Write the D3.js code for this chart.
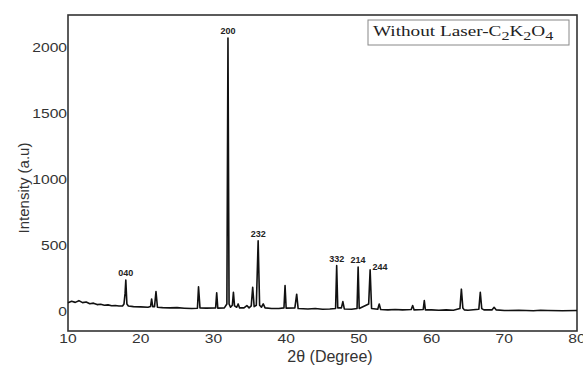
<!DOCTYPE html>
<html>
<head>
<meta charset="utf-8">
<script src="https://cdn.jsdelivr.net/npm/d3@7"></script>
<style>
  body { margin: 0; background: #fff; }
  svg { display: block; }
</style>
</head>
<body>
<div class="chart"></div>
<script>
// XRD pattern
var twoTheta = [10, 10.5, 11, 11.5, 12, 12.5, 13, 13.5, 14, 14.5, 15, 15.5, 16, 16.5, 17, 17.5, 17.7, 17.85, 17.95, 18.1, 18.3,
  19, 20, 21, 21.35, 21.5, 21.65, 21.9, 22.1, 22.3, 23, 24, 25, 26, 27, 27.8, 27.95, 28.15, 29, 30.3, 30.45, 30.6,
  31.5, 31.85, 32.0, 32.15, 32.35, 32.6, 32.75, 32.9, 33.2, 33.4, 33.6, 34.2, 34.6, 34.9, 35.2, 35.4, 35.6, 35.9,
  36.15, 36.35, 36.6, 36.85, 37.1, 38, 39, 39.7, 39.85, 40, 41.2, 41.45, 41.65, 43, 44, 45, 46, 46.8, 46.95, 47.1,
  47.6, 47.8, 48.0, 49, 49.75, 49.9, 50.05, 51.35, 51.55, 51.75, 52.6, 52.8, 53.0, 54, 55, 56, 57.2, 57.4, 57.6,
  58.85, 59.0, 59.15, 60, 61, 62, 63, 63.9, 64.1, 64.3, 64.5, 65, 66.5, 66.7, 66.9, 67.2, 68.3, 68.6, 68.9,
  70, 72, 74, 75, 76, 78, 80];
var intensity = [70, 80, 72, 85, 70, 75, 62, 66, 55, 58, 50, 53, 46, 48, 44, 45, 60, 140, 242, 60, 45,
  40, 38, 35, 40, 98, 40, 40, 154, 35, 32, 30, 32, 28, 25, 28, 190, 30, 28, 30, 144, 28,
  30, 60, 2076, 60, 35, 50, 149, 45, 35, 60, 30, 30, 48, 30, 45, 187, 40, 50,
  538, 50, 35, 60, 30, 25, 25, 30, 200, 28, 30, 134, 25, 22, 25, 20, 22, 25, 351, 30,
  30, 78, 22, 20, 25, 339, 25, 60, 318, 25, 20, 60, 18, 15, 18, 15, 18, 48, 15,
  18, 86, 15, 15, 12, 15, 12, 25, 172, 30, 15, 12, 20, 149, 25, 15, 15, 35, 15,
  10, 12, 8, 12, 10, 8, 10];

var peakHkl = ["040", "200", "232", "332", "214", "244"];
var peakTheta = [17.95, 32.0, 36.15, 46.95, 49.9, 51.55];
var peakTop = [242, 2076, 538, 351, 339, 318];

var xTicks = [10, 20, 30, 40, 50, 60, 70, 80];
var yTicks = [0, 500, 1000, 1500, 2000];

var svgWidth = 583;
var svgHeight = 367;
var margin = { top: 15, right: 6, bottom: 36, left: 68 };
var width = svgWidth - margin.left - margin.right;
var height = svgHeight - margin.top - margin.bottom;

var svg = d3.select(".chart")
  .append("svg")
  .attr("width", svgWidth)
  .attr("height", svgHeight);
var chart = svg.append("g")
  .attr("transform", "translate(" + margin.left + "," + margin.top + ")");

var xScale = d3.scaleLinear().domain([10, 80]).range([0, width]);
var yScale = d3.scaleLinear().domain([-145, 2250]).range([height, 0]);

// frame
chart.append("rect")
  .attr("width", width)
  .attr("height", height)
  .attr("fill", "none")
  .attr("stroke", "#333")
  .attr("stroke-width", 1.6);

// tick labels, slightly wide like the original
var sx = 1.25;
chart.selectAll(".ytick")
  .data(yTicks)
  .enter().append("text")
  .attr("class", "ytick")
  .attr("transform", function(d) { return "translate(-1," + yScale(d) + ") scale(" + sx + ",1)"; })
  .attr("text-anchor", "end")
  .attr("dy", "0.35em")
  .attr("font-family", "Liberation Sans, Arial, sans-serif")
  .attr("font-size", "12.5px")
  .attr("fill", "#333")
  .text(function(d) { return d; });

chart.selectAll(".xtick")
  .data(xTicks)
  .enter().append("text")
  .attr("class", "xtick")
  .attr("transform", function(d) { return "translate(" + xScale(d) + "," + (height + 12) + ") scale(" + sx + ",1)"; })
  .attr("text-anchor", "middle")
  .attr("font-family", "Liberation Sans, Arial, sans-serif")
  .attr("font-size", "12.5px")
  .attr("fill", "#333")
  .text(function(d) { return d; });

// the pattern
var line = d3.line()
  .x(function(d, i) { return xScale(twoTheta[i]); })
  .y(function(d) { return yScale(d); });

chart.append("path")
  .datum(intensity)
  .attr("d", line)
  .attr("fill", "none")
  .attr("stroke", "#111")
  .attr("stroke-width", 1.6)
  .attr("stroke-linejoin", "round");

// hkl labels
chart.selectAll(".hkl")
  .data(peakHkl)
  .enter().append("text")
  .attr("class", "hkl")
  .attr("x", function(d, i) { return xScale(peakTheta[i]) + (d == "244" ? 10 : 0); })
  .attr("y", function(d, i) { return yScale(peakTop[i]) - (d == "244" ? 0 : 4); })
  .attr("text-anchor", "middle")
  .attr("font-family", "Liberation Sans, Arial, sans-serif")
  .attr("font-weight", "bold")
  .attr("font-size", "9px")
  .attr("fill", "#222")
  .text(function(d) { return d; });

// legend box
var legend = svg.append("g");
legend.append("rect")
  .attr("x", 368)
  .attr("y", 20)
  .attr("width", 201)
  .attr("height", 25)
  .attr("fill", "#fff")
  .attr("stroke", "#888")
  .attr("stroke-width", 1);
var lt = legend.append("text")
  .attr("transform", "translate(373,36) scale(1.24,1)")
  .attr("font-family", "Liberation Serif, Times New Roman, serif")
  .attr("font-size", "15.5px")
  .attr("fill", "#222");
lt.append("tspan").text("Without Laser-C");
lt.append("tspan").attr("dy", 4).attr("font-size", "13px").text("2");
lt.append("tspan").attr("dy", -4).text("K");
lt.append("tspan").attr("dy", 4).attr("font-size", "13px").text("2");
lt.append("tspan").attr("dy", -4).text("O");
lt.append("tspan").attr("dy", 4).attr("font-size", "13px").text("4");

// axis titles
svg.append("text")
  .attr("transform", "translate(29," + 188 + ") rotate(-90)")
  .attr("text-anchor", "middle")
  .attr("font-family", "Liberation Sans, Arial, sans-serif")
  .attr("font-size", "15px")
  .attr("fill", "#333")
  .text("Intensity (a.u)");

svg.append("text")
  .attr("x", 330)
  .attr("y", 362)
  .attr("text-anchor", "middle")
  .attr("font-family", "Liberation Sans, Arial, sans-serif")
  .attr("font-size", "16px")
  .attr("fill", "#333")
  .text("2\u03b8 (Degree)");
</script>
</body>
</html>
